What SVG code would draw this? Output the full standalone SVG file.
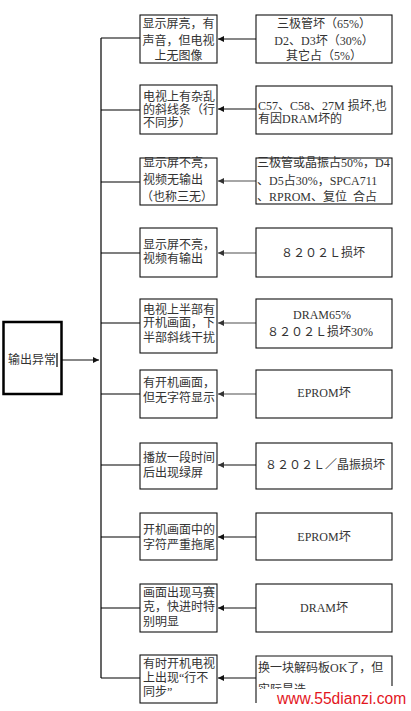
<svg xmlns="http://www.w3.org/2000/svg" width="411" height="711" viewBox="0 0 411 711">
<style>
.bx{fill:#fff;stroke:#111;stroke-width:1.1}
.mb{fill:#fff;stroke:#000;stroke-width:2.5}
.t{font-family:"Liberation Serif","Noto Sans CJK SC",serif;font-size:12px;fill:#333}
.c{text-anchor:middle}
.ln{stroke:#000;stroke-width:1.2;fill:none}
.ab{stroke:#111;stroke-width:1.1;fill:none}
.ag{stroke:#888;stroke-width:1.3;fill:none}
.wm{font-family:"Liberation Sans",Arial,sans-serif;font-size:15.6px;fill:#e3161e}
</style>
<defs>
<marker id="hb" markerUnits="userSpaceOnUse" markerWidth="6" markerHeight="6" refX="6" refY="3" orient="auto"><path d="M0,0 L6,3 L0,6 z" fill="#111"/></marker>
<marker id="hg" markerUnits="userSpaceOnUse" markerWidth="6" markerHeight="6" refX="6" refY="3" orient="auto"><path d="M0,0 L6,3 L0,6 z" fill="#333"/></marker>
<clipPath id="cut"><rect x="250" y="650" width="150" height="39"/></clipPath>
</defs>
<rect width="411" height="711" fill="#fff"/>

<g id="connectors">
<line class="ln" x1="101" y1="38" x2="101" y2="678"/>
<line class="ln" x1="101" y1="38" x2="140" y2="38"/>
<line class="ln" x1="101" y1="110" x2="140" y2="110"/>
<line class="ln" x1="101" y1="182" x2="140" y2="182"/>
<line class="ln" x1="101" y1="253" x2="140" y2="253"/>
<line class="ln" x1="101" y1="323" x2="140" y2="323"/>
<line class="ln" x1="101" y1="394" x2="140" y2="394"/>
<line class="ln" x1="101" y1="465" x2="140" y2="465"/>
<line class="ln" x1="101" y1="537" x2="140" y2="537"/>
<line class="ln" x1="101" y1="608" x2="140" y2="608"/>
<line class="ln" x1="101" y1="678" x2="140" y2="678"/>
<line class="ab" x1="61" y1="360" x2="99" y2="360" marker-end="url(#hb)"/>
<line class="ab" x1="256" y1="39" x2="218" y2="39" marker-end="url(#hb)"/>
<line class="ab" x1="256" y1="109" x2="218" y2="109" marker-end="url(#hb)"/>
<line class="ag" x1="256" y1="181" x2="218" y2="181" marker-end="url(#hg)"/>
<line class="ag" x1="256" y1="253" x2="218" y2="253" marker-end="url(#hg)"/>
<line class="ag" x1="256" y1="323" x2="218" y2="323" marker-end="url(#hg)"/>
<line class="ag" x1="256" y1="394" x2="218" y2="394" marker-end="url(#hg)"/>
<line class="ab" x1="256" y1="465" x2="218" y2="465" stroke="#555" marker-end="url(#hg)"/>
<line class="ab" x1="256" y1="537" x2="218" y2="537" marker-end="url(#hb)"/>
<line class="ab" x1="256" y1="608" x2="218" y2="608" marker-end="url(#hb)"/>
<line class="ab" x1="256" y1="678" x2="218" y2="678" marker-end="url(#hb)"/>
</g>

<g id="main">
<rect class="mb" x="3.5" y="322" width="58" height="72"/>
<text class="t" x="8" y="364">输出异常</text>
<line x1="57" y1="353" x2="57" y2="367" stroke="#000" stroke-width="1.2"/>
</g>

<g id="s1"><rect class="bx" x="140" y="15" width="77" height="48"/>
<text class="t c" x="178.5" y="28">显示屏亮，有</text><text class="t c" x="178.5" y="45">声音，但电视</text><text class="t c" x="178.5" y="60">上无图像</text></g>
<g id="r1"><rect class="bx" x="256" y="15" width="136" height="48"/>
<text class="t c" x="324" y="28">三极管坏（65%）</text><text class="t c" x="324" y="45">D2、D3坏（30%）</text><text class="t c" x="324" y="60">其它占（5%）</text></g>

<g id="s2"><rect class="bx" x="140" y="85" width="77" height="49"/>
<text class="t" x="143" y="101">电视上有杂乱</text><text class="t" x="143" y="114">的斜线条（行</text><text class="t" x="143" y="127">不同步）</text></g>
<g id="r2"><rect class="bx" x="256" y="86" width="136" height="48"/>
<text class="t" x="258" y="110">C57、C58、27M 损坏,也</text><text class="t" x="258" y="123">有因DRAM坏的</text></g>

<g id="s3"><rect class="bx" x="140" y="158" width="77" height="47"/>
<text class="t" x="143" y="167">显示屏不亮，</text><text class="t" x="143" y="184">视频无输出</text><text class="t" x="141" y="201">（也称三无）</text></g>
<g id="r3"><rect class="bx" x="256" y="158" width="136" height="46"/>
<text class="t" x="257" y="167">三极管或晶振占50%，D4</text><text class="t" x="257" y="185">、D5占30%，SPCA711</text><text class="t" x="257" y="201" style="white-space:pre">、RPROM、复位  合占</text></g>

<g id="s4"><rect class="bx" x="140" y="228" width="77" height="49"/>
<text class="t" x="143" y="249">显示屏不亮，</text><text class="t" x="143" y="263">视频有输出</text></g>
<g id="r4"><rect class="bx" x="256" y="228" width="136" height="49"/>
<text class="t c" x="323" y="257">８２０２Ｌ损坏</text></g>

<g id="s5"><rect class="bx" x="140" y="299" width="77" height="54"/>
<text class="t" x="143" y="314">电视上半部有</text><text class="t" x="143" y="327">开机画面，下</text><text class="t" x="143" y="342">半部斜线干扰</text></g>
<g id="r5"><rect class="bx" x="256" y="299" width="136" height="49"/>
<text class="t c" x="322" y="319">DRAM65%</text><text class="t c" x="320" y="336">８２０２Ｌ损坏30%</text></g>

<g id="s6"><rect class="bx" x="140" y="370" width="77" height="48"/>
<text class="t" x="143" y="387">有开机画面，</text><text class="t" x="143" y="402">但无字符显示</text></g>
<g id="r6"><rect class="bx" x="256" y="370" width="136" height="48"/>
<text class="t c" x="324" y="397">EPROM坏</text></g>

<g id="s7"><rect class="bx" x="140" y="443" width="77" height="46"/>
<text class="t" x="143" y="462">播放一段时间</text><text class="t" x="143" y="477">后出现绿屏</text></g>
<g id="r7"><rect class="bx" x="256" y="443" width="136" height="46"/>
<text class="t c" x="325" y="469">８２０２Ｌ／晶振损坏</text></g>

<g id="s8"><rect class="bx" x="140" y="513" width="77" height="47"/>
<text class="t" x="143" y="534">开机画面中的</text><text class="t" x="143" y="549">字符严重拖尾</text></g>
<g id="r8"><rect class="bx" x="256" y="513" width="136" height="47"/>
<text class="t c" x="324" y="541">EPROM坏</text></g>

<g id="s9"><rect class="bx" x="140" y="584" width="77" height="48"/>
<text class="t" x="143" y="597">画面出现马赛</text><text class="t" x="143" y="611">克，快进时特</text><text class="t" x="143" y="626">别明显</text></g>
<g id="r9"><rect class="bx" x="256" y="584" width="136" height="48"/>
<text class="t c" x="324" y="612">DRAM坏</text></g>

<g id="s10"><rect class="bx" x="140" y="655" width="77" height="48"/>
<text class="t" x="143" y="668">有时开机电视</text><text class="t" x="143" y="682">上出现“行不</text><text class="t" x="143" y="696">同步”</text></g>
<g id="r10"><path class="bx" d="M256,703 V656 H392 V686" fill="none"/>
<text class="t" x="258" y="672">换一块解码板OK了，但</text>
<text class="t" x="258" y="694" clip-path="url(#cut)">实际是选</text></g>

<text class="wm" x="277" y="704">www.55dianzi.com</text>
</svg>
